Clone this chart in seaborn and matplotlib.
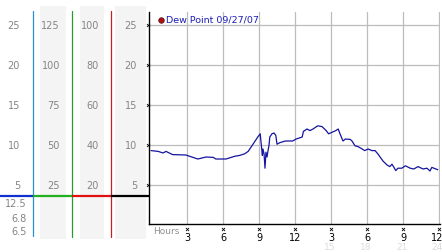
import matplotlib
matplotlib.use("Agg")
import matplotlib.pyplot as plt
import seaborn as sns
import pandas as pd

# ---- data ----
hours = [0.0, 0.6, 1.0, 1.25, 1.8, 2.9, 3.9, 4.6, 5.2, 5.4, 6.25, 7.0, 7.4, 7.8, 8.1,
         8.5, 8.9, 9.1, 9.2, 9.28, 9.33, 9.42, 9.5, 9.58, 9.67, 9.75, 9.83, 9.9, 10.08,
         10.25, 10.4, 10.5, 10.75, 11.2, 11.8, 12.1, 12.4, 12.6, 12.7, 13.0, 13.25, 13.5,
         13.9, 14.25, 14.6, 14.8, 15.1, 15.4, 15.6, 15.75, 16.0, 16.2, 16.6, 16.75, 17.0,
         17.25, 17.6, 17.8, 18.1, 18.4, 18.67, 18.9, 19.33, 19.67, 19.9, 20.08, 20.25,
         20.4, 20.58, 20.9, 21.2, 21.6, 21.9, 22.25, 22.67, 23.0, 23.25, 23.4, 23.75, 23.9]
dew_point = [9.3, 9.2, 9.0, 9.2, 8.8, 8.75, 8.25, 8.5, 8.45, 8.25, 8.25, 8.6, 8.7, 8.9, 9.2,
             10.1, 11.0, 11.4, 9.9, 8.7, 9.5, 8.9, 7.1, 9.1, 8.5, 9.3, 9.9, 11.0, 11.4,
             11.5, 11.2, 10.1, 10.3, 10.5, 10.5, 10.75, 10.9, 11.0, 11.7, 12.0, 11.8, 12.0,
             12.4, 12.3, 11.8, 11.4, 11.6, 11.8, 12.0, 11.4, 10.5, 10.75, 10.7, 10.5, 9.9,
             9.8, 9.5, 9.3, 9.5, 9.3, 9.3, 8.9, 8.0, 7.5, 7.3, 7.6, 7.2, 6.8, 7.1, 7.1, 7.4,
             7.1, 7.0, 7.3, 7.0, 7.1, 6.75, 7.2, 7.0, 6.9]
series_label = "Dew Point 09/27/07"

x_ticks = [3, 6, 9, 12, 15, 18, 21, 24]
x_tick_labels = ["3", "6", "9", "12", "3", "6", "9", "12"]
x_alt_ticks = [15, 18, 21, 24]
x_alt_labels = ["15", "18", "21", "24"]

y_ticks = [25, 20, 15, 10, 5]
col1_labels = ["25", "20", "15", "10", "5"]
col1_extra = ["12.5", "6.8", "6.5"]
col2_labels = ["125", "100", "75", "50", "25"]
col3_labels = ["100", "80", "60", "40", "20"]
col4_labels = ["25", "20", "15", "10", "5"]

# ---- figure ----
W, H = 442, 253
sns.set_style("white")
plt.rcParams["font.family"] = ["DejaVu Sans"]
fig = plt.figure(figsize=(W / 100, H / 100), dpi=100)


def v_of_py(py):  # value scale: 0 at y=226 px, 8 px per unit
    return (226 - py) / 8.0


main_left, main_right, main_top, main_bot = 149, 440, 13, 225
ax = fig.add_axes([main_left / W, (H - main_bot) / H,
                   (main_right - main_left) / W, (main_bot - main_top) / H])
ax.set_xlim((main_left - 151) / 12.0, (main_right - 151) / 12.0)
ax.set_ylim(v_of_py(main_bot), v_of_py(main_top))


def ay(py):  # pixel y -> axes fraction
    return (main_bot - py) / (main_bot - main_top)


def ax_x(px):  # pixel x -> axes fraction
    return (px - main_left) / (main_right - main_left)


df = pd.DataFrame({"hour": hours, "dew": dew_point})
sns.lineplot(data=df, x="hour", y="dew", ax=ax, color="#1414a0", lw=0.9)

for t in x_ticks:
    ax.axvline(t, color="#bcbcbc", lw=0.9, zorder=0)
for t in y_ticks:
    ax.axhline(t, color="#bcbcbc", lw=0.9, zorder=0)

for s in ["top", "right"]:
    ax.spines[s].set_visible(False)
for s in ["left", "bottom"]:
    ax.spines[s].set_color("black")
    ax.spines[s].set_linewidth(1.0)
ax.set_xlabel("")
ax.set_ylabel("")
ax.set_yticks([])
ax.set_xticks([])

# small tick markers
xt = ax.get_xaxis_transform()
ax.scatter(x_ticks, [ay(230)] * len(x_ticks), transform=xt, marker="x", s=5,
           lw=0.6, color="black", clip_on=False)
yt = ax.get_yaxis_transform()
ax.scatter([ax_x(148)] * len(y_ticks), y_ticks, transform=yt, marker="x", s=5,
           lw=0.6, color="black", clip_on=False, zorder=5)

# tick labels (last one nudged inward like the reference)
for i, (t, lab) in enumerate(zip(x_ticks, x_tick_labels)):
    xx = t - 0.15 if i == len(x_ticks) - 1 else t
    ax.text(xx, ay(238.5), lab, transform=xt, ha="center", va="center",
            fontsize=7, color="black")
for i, (t, lab) in enumerate(zip(x_alt_ticks, x_alt_labels)):
    xx = t - 0.2 if i == len(x_alt_ticks) - 1 else t - 0.1
    ax.text(xx, ay(248), lab, transform=xt, ha="center", va="center",
            fontsize=6.5, color="#dcdcdc")
ax.text(ax_x(153), ay(231.5), "Hours", transform=ax.transAxes, ha="left",
        va="center", fontsize=6.5, color="#909090")

# legend marker and text
ax.scatter([ax_x(161)], [ay(20.5)], transform=ax.transAxes, s=16, color="#b01010",
           edgecolor="#501010", lw=0.5, clip_on=False, zorder=6)
ax.text(ax_x(165.5), ay(20), series_label, transform=ax.transAxes, ha="left",
        va="center", fontsize=6.8, color="#1e1eb4")

# ---- left scale panel (pixel x, value y) ----
axl = fig.add_axes([0, 0, main_left / W, 1])
axl.set_xlim(0, main_left)
axl.set_ylim(v_of_py(H), v_of_py(0))
axl.axis("off")

bands = [(40, 66), (80, 104), (115, 146)]
for x0, x1 in bands:
    axl.fill_between([x0, x1], v_of_py(240), v_of_py(7), color="#f4f4f4", lw=0, zorder=0)

gray = "#858585"
fs = 7
for cols, xr in [(col1_labels, 20), (col2_labels, 60), (col3_labels, 99), (col4_labels, 137)]:
    for v, lab in zip(y_ticks, cols):
        axl.text(xr, v, lab, ha="right", va="center", fontsize=fs, color=gray)
for py, lab in zip([204, 219, 232], col1_extra):
    axl.text(27, v_of_py(py), lab, ha="right", va="center", fontsize=fs, color=gray)

line_y = v_of_py(197)
axl.plot([33, 33], [v_of_py(12), v_of_py(237)], color="#2a8fd0", lw=0.9)
axl.plot([72, 72], [v_of_py(12), v_of_py(238)], color="#2a9a2a", lw=0.9)
axl.plot([111, 111], [v_of_py(12), v_of_py(238)], color="#c02020", lw=0.9)
axl.plot([0, 33], [line_y, line_y], color="#1030d0", lw=1.6, solid_capstyle="butt")
axl.plot([33, 72], [line_y, line_y], color="#20b020", lw=1.6, solid_capstyle="butt")
axl.plot([72, 111], [line_y, line_y], color="#e01010", lw=1.6, solid_capstyle="butt")
axl.plot([111, 150], [line_y, line_y], color="black", lw=1.6, solid_capstyle="butt")

fig.savefig("out.png", dpi=100)
